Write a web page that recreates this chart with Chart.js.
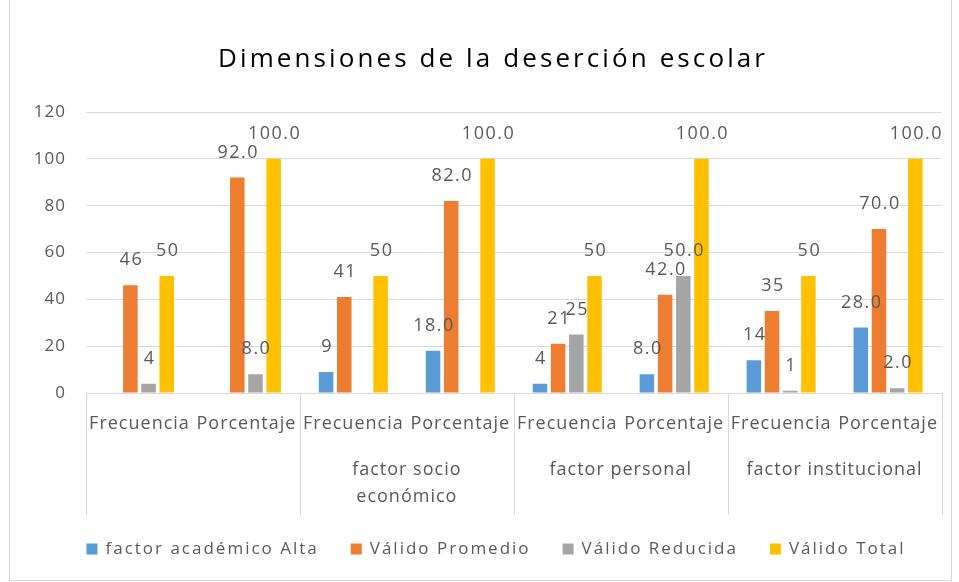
<!DOCTYPE html>
<html>
<head>
<meta charset="utf-8">
<script src="https://cdn.jsdelivr.net/npm/chart.js@4.4.1/dist/chart.umd.min.js"></script>
<style>
  html, body { margin: 0; padding: 0; background: #fff; }
  #wrap { position: relative; width: 959px; height: 582px; }
  #frame { position: absolute; left: 9px; top: -2px; width: 943px; height: 583px; border: 1px solid #d9d9d9; box-sizing: border-box; pointer-events: none; }
</style>
</head>
<body>
<div id="wrap">
  <canvas id="myChart" width="959" height="582"></canvas>
  <div id="frame"></div>
</div>
<script>
const chartTitle = 'Dimensiones de la deserción escolar';
const categories = ["Frecuencia", "Porcentaje", "Frecuencia", "Porcentaje", "Frecuencia", "Porcentaje", "Frecuencia", "Porcentaje"];
const groups = [[""], ["factor socio", "económico"], ["factor personal"], ["factor institucional"]];

const alta      = [null, null, 9, 18.0, 4, 8.0, 14, 28.0];
const promedio  = [46, 92.0, 41, 82.0, 21, 42.0, 35, 70.0];
const reducida  = [4, 8.0, null, null, 25, 50.0, 1, 2.0];
const total     = [50, 100.0, 50, 100.0, 50, 100.0, 50, 100.0];

const yTicks = [0, 20, 40, 60, 80, 100, 120];

const fontFamily = "'Open Sans', 'Liberation Sans', sans-serif";
const textColor = '#595959';
const lineColor = '#d9d9d9';
const spacing = '1px';

// the reference text is a bit wider than the fonts we have
const spaced = {
  id: 'spaced',
  beforeUpdate(chart) { chart.ctx.letterSpacing = spacing; },
  beforeDraw(chart) { chart.ctx.letterSpacing = spacing; }
};

// title drawn by hand so it can get its own spacing
const bigTitle = {
  id: 'bigTitle',
  afterDraw(chart) {
    const c = chart.ctx;
    c.save();
    c.font = '26px ' + fontFamily;
    c.letterSpacing = '0px';
    const w = c.measureText(chartTitle).width;
    c.letterSpacing = ((547 - w) / (chartTitle.length - 1)) + 'px';
    c.fillStyle = '#000';
    c.textAlign = 'left';
    c.textBaseline = 'alphabetic';
    c.fillText(chartTitle, 218, 67);
    c.restore();
  }
};

// legend along the bottom
const bottomLegend = {
  id: 'bottomLegend',
  afterDraw(chart) {
    const c = chart.ctx;
    const box = 11, gap = 8, between = 32, y = 549, mid = 496;
    c.save();
    c.font = '17px ' + fontFamily;
    c.letterSpacing = '2px';
    const items = chart.data.datasets.map(d => ({ text: d.label, color: d.backgroundColor, w: c.measureText(d.label).width }));
    const full = items.reduce((s, it) => s + box + gap + it.w, 0) + between * (items.length - 1);
    let x = mid - full / 2;
    c.textAlign = 'left';
    c.textBaseline = 'middle';
    items.forEach(it => {
      c.fillStyle = it.color;
      c.fillRect(x, y - box / 2, box, box);
      c.fillStyle = textColor;
      c.fillText(it.text, x + box + gap, y);
      x += box + gap + it.w + between;
    });
    c.restore();
  }
};

// labels on top of the bars
const barLabels = {
  id: 'barLabels',
  afterDatasetsDraw(chart) {
    const c = chart.ctx;
    c.save();
    c.font = '18px ' + fontFamily;
    c.letterSpacing = '1.5px';
    c.fillStyle = textColor;
    c.textAlign = 'center';
    c.textBaseline = 'middle';
    chart.data.datasets.forEach((ds, i) => {
      const meta = chart.getDatasetMeta(i);
      meta.data.forEach((bar, j) => {
        const v = ds.data[j];
        if (v === null) return;
        const txt = j % 2 ? v.toFixed(1) : String(v);
        c.fillText(txt, bar.x + 1, bar.y - 25);
      });
    });
    c.restore();
  }
};

// second level of the category axis
const groupAxis = {
  id: 'groupAxis',
  afterDraw(chart) {
    const c = chart.ctx;
    const x = chart.scales.x;
    const top = chart.chartArea.bottom;
    const bottom = top + 122;
    const step = x.getPixelForValue(1) - x.getPixelForValue(0);
    c.save();
    c.strokeStyle = lineColor;
    c.lineWidth = 1;
    for (let g = 0; g <= groups.length; g++) {
      const px = Math.round(x.getPixelForValue(g * 2) - step / 2) + 0.5;
      c.beginPath();
      c.moveTo(px, top);
      c.lineTo(px, bottom);
      c.stroke();
    }
    c.font = '18px ' + fontFamily;
    c.fillStyle = textColor;
    c.textAlign = 'center';
    c.textBaseline = 'middle';
    groups.forEach((lines, g) => {
      const cx = (x.getPixelForValue(g * 2) + x.getPixelForValue(g * 2 + 1)) / 2;
      lines.forEach((l, k) => c.fillText(l, cx, top + 77 + k * 27));
    });
    c.restore();
  }
};

const ds = (label, data, color) => ({
  label, data, backgroundColor: color, borderWidth: 0,
  categoryPercentage: 0.68, barPercentage: 0.8
});

new Chart(document.getElementById('myChart'), {
  type: 'bar',
  data: {
    labels: categories,
    datasets: [
      ds('factor académico Alta', alta, '#5b9bd5'),
      ds('Válido Promedio', promedio, '#ed7d31'),
      ds('Válido Reducida', reducida, '#a5a5a5'),
      ds('Válido Total', total, '#ffc000')
    ]
  },
  options: {
    responsive: false,
    animation: false,
    layout: { padding: { left: 10, right: 16, top: 112, bottom: 60 } },
    plugins: {
      title: { display: false },
      legend: { display: false },
      tooltip: { enabled: false }
    },
    scales: {
      y: {
        min: 0, max: 120,
        afterFit(scale) { scale.width = 76; },
        afterBuildTicks(scale) { scale.ticks = yTicks.map(v => ({ value: v })); },
        ticks: { color: textColor, font: { family: fontFamily, size: 17 }, padding: 20 },
        grid: { color: lineColor, drawTicks: false },
        border: { display: false }
      },
      x: {
        afterFit(scale) { scale.height = 129; },
        ticks: { color: textColor, font: { family: fontFamily, size: 18 }, padding: 20, maxRotation: 0, autoSkip: false },
        grid: { display: false, drawTicks: false },
        border: { display: true, color: lineColor }
      }
    }
  },
  plugins: [spaced, barLabels, groupAxis, bigTitle, bottomLegend]
});
</script>
</body>
</html>
